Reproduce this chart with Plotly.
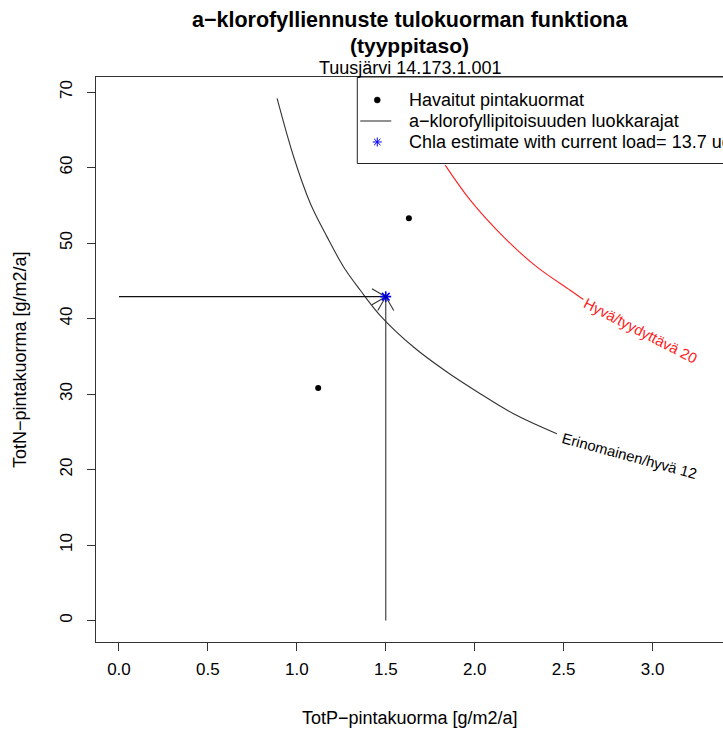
import math
import plotly.graph_objects as go

# ---------------- data ----------------
obs_p = [1.12, 1.63]          # observed TotP loads
obs_n = [30.8, 53.3]          # observed TotN loads
est_p = [1.50]                # current load (star)
est_n = [42.9]

# chl-a isoline 12 (Erinomainen/hyvä)
p12 = [0.889, 0.982, 1.076, 1.170, 1.263, 1.357, 1.469, 1.656, 1.844, 2.031, 2.218, 2.462]
n12 = [69.16, 61.43, 55.24, 50.82, 46.84, 43.75, 40.40, 36.23, 32.92, 30.05, 27.40, 24.75]
# chl-a isoline 20 (Hyvä/tyydyttävä)
p20 = [1.834, 1.975, 2.162, 2.349, 2.537, 2.611]
n20 = [60.32, 55.68, 50.82, 46.84, 43.75, 42.52]

x_ticks = [0.0, 0.5, 1.0, 1.5, 2.0, 2.5, 3.0]
x_ticktext = ["0.0", "0.5", "1.0", "1.5", "2.0", "2.5", "3.0"]
y_ticks = [0, 10, 20, 30, 40, 50, 60, 70]

title1 = "a\u2212klorofylliennuste tulokuorman funktiona"
title2 = "(tyyppitaso)"
subtitle = "Tuusjärvi 14.173.1.001"
xlab = "TotP\u2212pintakuorma [g/m2/a]"
ylab = "TotN\u2212pintakuorma [g/m2/a]"
legend_labels = ["Havaitut pintakuormat",
                 "a\u2212klorofyllipitoisuuden luokkarajat",
                 "Chla estimate with current load= 13.7 ug/l"]
label12 = "Erinomainen/hyvä 12"
label20 = "Hyvä/tyydyttävä 20"

# ---------------- layout geometry ----------------
W, H = 723, 731
ML, MR, MT, MB = 95.5, 0, 77, 89
xr = [-0.1292, 3.396]
yr = [-2.85, 72.0]
pw = W - ML - MR
ph = H - MT - MB
sx = pw / (xr[1] - xr[0])     # px per x unit
sy = ph / (yr[1] - yr[0])     # px per y unit

FONT = "Liberation Sans, Arial, sans-serif"

def px2paper(px, py):
    return (px - ML) / pw, (H - MB - py) / ph

fig = go.Figure()

# isolines
fig.add_trace(go.Scatter(x=p12, y=n12, mode="lines",
                         line=dict(color="#333333", width=1.1, shape="spline", smoothing=1.0),
                         hoverinfo="skip"))
fig.add_trace(go.Scatter(x=p20, y=n20, mode="lines",
                         line=dict(color="#ff2020", width=1.1, shape="spline", smoothing=1.0),
                         hoverinfo="skip"))

# arrows to current load
fig.add_trace(go.Scatter(x=[0, est_p[0]], y=[est_n[0], est_n[0]], mode="lines",
                         line=dict(color="#111111", width=1.1), hoverinfo="skip"))
fig.add_trace(go.Scatter(x=[est_p[0], est_p[0]], y=[0, est_n[0]], mode="lines",
                         line=dict(color="#333333", width=1.1), hoverinfo="skip"))
head_len, head_ang = 16.0, math.radians(30)
for (dxu, dyu) in [(1, 0), (0, 1)]:  # direction of arrow in screen (x right, y up)
    for s in (1, -1):
        a = math.atan2(dyu, dxu) + math.pi + s * head_ang
        hx = est_p[0] + head_len * math.cos(a) / sx
        hy = est_n[0] + head_len * math.sin(a) / sy
        fig.add_trace(go.Scatter(x=[est_p[0], hx], y=[est_n[0], hy], mode="lines",
                                 line=dict(color="#333333", width=1.1), hoverinfo="skip"))

# observed points
fig.add_trace(go.Scatter(x=obs_p, y=obs_n, mode="markers",
                         marker=dict(color="black", size=6), hoverinfo="skip"))
# estimate star
fig.add_trace(go.Scatter(x=est_p, y=est_n, mode="markers",
                         marker=dict(symbol="asterisk-open", size=9, color="blue",
                                     line=dict(color="blue", width=1.6)), hoverinfo="skip"))
fig.add_trace(go.Scatter(x=est_p, y=est_n, mode="markers",
                         marker=dict(symbol="circle", size=4, color="#0000aa"), hoverinfo="skip"))

shapes = []
annotations = []

# legend box
lx0, ly0 = px2paper(357, 77)
lx1, ly1 = px2paper(800, 163.5)
shapes.append(dict(type="rect", xref="paper", yref="paper", x0=lx0, x1=lx1, y0=ly1, y1=ly0,
                   fillcolor="white", line=dict(color="#222222", width=1), layer="above"))
sym_x = 377
rows = [100, 121, 142]
# dot
cx, cy = px2paper(sym_x, rows[0])
shapes.append(dict(type="circle", xref="paper", yref="paper", xsizemode="pixel", ysizemode="pixel",
                   xanchor=cx, yanchor=cy, x0=-3, x1=3, y0=-3, y1=3,
                   fillcolor="black", line=dict(color="black", width=0.5), layer="above"))
# line
ax0, ay = px2paper(360, rows[1])
ax1, _ = px2paper(391, rows[1])
shapes.append(dict(type="line", xref="paper", yref="paper", x0=ax0, x1=ax1, y0=ay, y1=ay,
                   line=dict(color="#222222", width=1), layer="above"))
# star
cx, cy = px2paper(sym_x, rows[2])
r = 4.5
for ang in (0, 45, 90, 135):
    dx = r * math.cos(math.radians(ang))
    dy = r * math.sin(math.radians(ang))
    shapes.append(dict(type="line", xref="paper", yref="paper", xsizemode="pixel", ysizemode="pixel",
                       xanchor=cx, yanchor=cy, x0=-dx, x1=dx, y0=-dy, y1=dy,
                       line=dict(color="blue", width=1), layer="above"))
for lab, ry in zip(legend_labels, rows):
    tx, ty = px2paper(407, ry)
    annotations.append(dict(text=lab, xref="paper", yref="paper", x=tx, y=ty,
                            xanchor="left", yanchor="middle", showarrow=False,
                            font=dict(family=FONT, size=18, color="black")))

# titles
for txt, py, sz, bold in [(title1, 20, 21.5, True), (title2, 45, 21, True), (subtitle, 68, 18, False)]:
    tx, ty = px2paper((ML + W) / 2, py)
    annotations.append(dict(text=("<b>%s</b>" % txt) if bold else txt, xref="paper", yref="paper",
                            x=tx, y=ty, xanchor="center", yanchor="middle", showarrow=False,
                            font=dict(family=FONT, size=sz, color="black")))
# axis titles
tx, ty = px2paper((ML + W) / 2, 718)
annotations.append(dict(text=xlab, xref="paper", yref="paper", x=tx, y=ty, xanchor="center",
                        yanchor="middle", showarrow=False, font=dict(family=FONT, size=18, color="black")))
tx, ty = px2paper(19, (MT + H - MB) / 2)
annotations.append(dict(text=ylab, xref="paper", yref="paper", x=tx, y=ty, xanchor="center",
                        yanchor="middle", showarrow=False, textangle=-90,
                        font=dict(family=FONT, size=18, color="black")))

# contour labels
annotations.append(dict(text=label12, x=2.869, y=21.85, xref="x", yref="y", showarrow=False,
                        textangle=15.2, font=dict(family=FONT, size=14.8, color="black")))
annotations.append(dict(text=label20, x=2.933, y=38.37, xref="x", yref="y", showarrow=False,
                        textangle=27.2, font=dict(family=FONT, size=14.8, color="#ff2020")))

fig.update_layout(
    width=W, height=H,
    margin=dict(l=ML, r=MR, t=MT, b=MB, pad=0, autoexpand=False),
    paper_bgcolor="white", plot_bgcolor="white",
    showlegend=False,
    shapes=shapes, annotations=annotations,
    xaxis=dict(range=xr, tickvals=x_ticks, ticktext=x_ticktext, ticks="outside", ticklen=8,
               tickcolor="#333333", showline=True, linecolor="#333333", linewidth=1, mirror=True,
               showgrid=False, zeroline=False, ticklabelstandoff=4,
               tickfont=dict(family=FONT, size=17, color="black")),
    yaxis=dict(range=yr, tickvals=y_ticks, ticks="outside", ticklen=8, tickangle=-90,
               tickcolor="#333333", showline=True, linecolor="#333333", linewidth=1, mirror=False,
               showgrid=False, zeroline=False, ticklabelstandoff=8,
               tickfont=dict(family=FONT, size=17, color="black")),
)

fig.write_html("out.html")
